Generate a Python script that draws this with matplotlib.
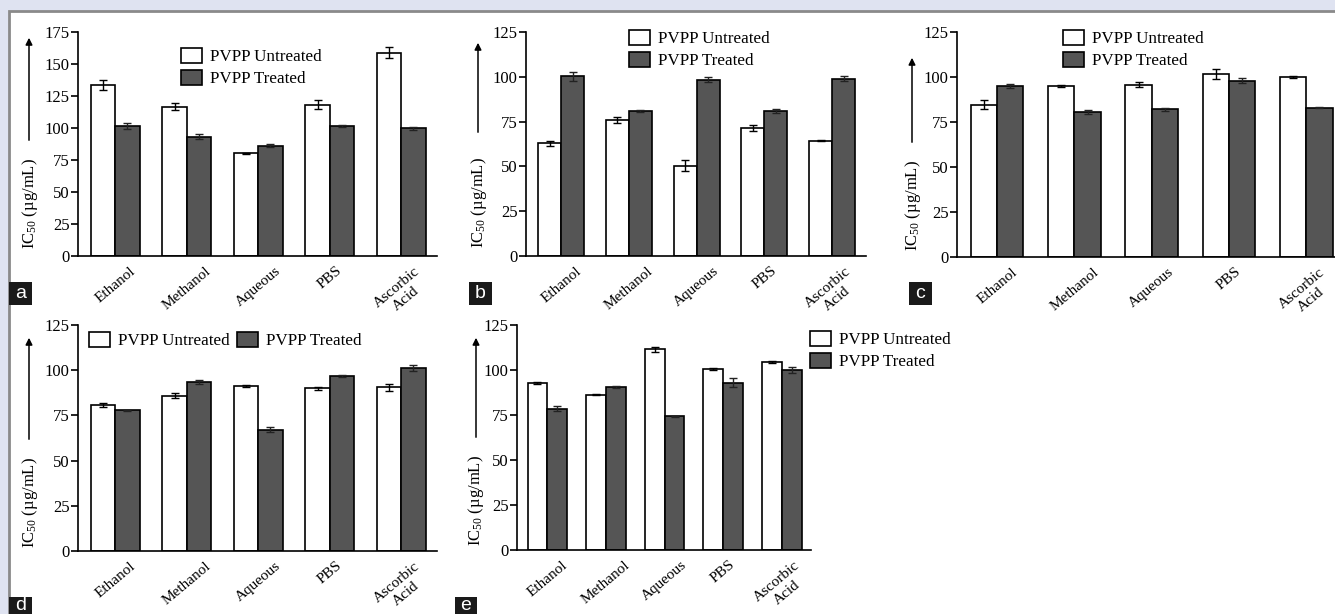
import matplotlib
matplotlib.use("Agg")
import matplotlib.pyplot as plt
from matplotlib.patches import Patch, Rectangle, FancyArrowPatch
import numpy as np

plt.rcParams['font.family'] = ['Liberation Serif', 'DejaVu Serif']
plt.rcParams['mathtext.fontset'] = 'custom'
plt.rcParams['mathtext.rm'] = 'Liberation Serif'
plt.rcParams['mathtext.it'] = 'Liberation Serif:italic'

categories = ["Ethanol", "Methanol", "Aqueous", "PBS", "Ascorbic\nAcid"]
series_names = ["PVPP Untreated", "PVPP Treated"]

a_untreated = [133.4, 116.5, 80.3, 118.3, 158.9]
a_untreated_err = [4.0, 2.8, 0.5, 3.5, 4.0]
a_treated = [101.4, 93.3, 86.3, 101.4, 99.8]
a_treated_err = [2.5, 1.8, 1.0, 1.0, 1.0]

b_untreated = [62.8, 75.8, 50.5, 71.5, 64.3]
b_untreated_err = [1.5, 1.5, 3.0, 1.5, 0.3]
b_treated = [100.3, 81.0, 98.4, 81.0, 99.0]
b_treated_err = [2.5, 0.5, 1.5, 1.0, 1.5]

c_untreated = [84.5, 94.8, 95.7, 101.7, 99.8]
c_untreated_err = [2.5, 0.5, 1.5, 3.0, 0.5]
c_treated = [95.0, 80.6, 82.0, 98.0, 83.0]
c_treated_err = [1.0, 1.0, 1.0, 1.5, 0.3]

d_untreated = [80.7, 86.0, 91.4, 89.9, 90.5]
d_untreated_err = [1.0, 1.5, 0.5, 1.0, 2.0]
d_treated = [77.9, 93.6, 67.2, 96.9, 101.2]
d_treated_err = [0.3, 1.0, 1.5, 0.5, 1.5]

e_untreated = [92.8, 86.3, 111.5, 100.7, 104.3]
e_untreated_err = [0.5, 0.3, 1.5, 0.5, 0.5]
e_treated = [78.5, 90.4, 74.3, 92.8, 100.0]
e_treated_err = [1.5, 0.5, 0.3, 2.5, 1.5]

yticks_a = [0, 25, 50, 75, 100, 125, 150, 175]
yticks_other = [0, 25, 50, 75, 100, 125]

W, H = 1335, 614
fig = plt.figure(figsize=(W / 100, H / 100), dpi=100)
fig.patch.set_facecolor('#dfe3f1')

def fx(x):
    return x / W

def fy(y):
    return 1 - y / H

# white panel with gray top/left border
fig.patches.append(Rectangle((fx(9), fy(700)), fx(1400), fy(11) - fy(700),
                             transform=fig.transFigure, facecolor='white',
                             edgecolor='#8a8a8a', linewidth=2, zorder=-5))

WHITE = 'white'
DARK = '#555555'
FS = 11
FS_Y = 12
FS_LEG = 12.3

panels = [
    ('a', a_untreated, a_untreated_err, a_treated, a_treated_err, yticks_a,
     (78, 437, 32, 256), (181, 48, 1), (30, 204), (29, 143, 35), (9, 282, 23, 23), 294),
    ('b', b_untreated, b_untreated_err, b_treated, b_treated_err, yticks_other,
     (526, 866, 32, 256), (629, 30, 1), (479, 203), (478, 135, 40), (469, 282, 23, 23), 294),
    ('c', c_untreated, c_untreated_err, c_treated, c_treated_err, yticks_other,
     (957, 1345, 32, 257), (1063, 30, 1), (913, 206), (912, 145, 55), (909, 282, 23, 23), 294),
    ('d', d_untreated, d_untreated_err, d_treated, d_treated_err, yticks_other,
     (78, 437, 325, 551), (89, 332, 2), (30, 503), (29, 442, 335), (9, 597, 23, 23), 605),
    ('e', e_untreated, e_untreated_err, e_treated, e_treated_err, yticks_other,
     (517, 811, 325, 550), (810, 331, 1), (476, 501), (476, 440, 335), (455, 597, 22, 23), 605),
]

w = 0.34
for (letter, un, une, tr, tre, yt, box, leg, ylab, arr, lbox, lty) in panels:
    l, r, t, b = box
    ax = fig.add_axes([fx(l), fy(b), fx(r - l), fy(t) - fy(b)])
    ax.set_facecolor('none')
    x = np.arange(len(categories))
    ax.bar(x - w / 2, un, w, color=WHITE, edgecolor='black', linewidth=1.2, zorder=2)
    ax.bar(x + w / 2, tr, w, color=DARK, edgecolor='black', linewidth=1.2, zorder=2)
    ax.errorbar(x - w / 2, un, yerr=une, fmt='none', ecolor='black',
                elinewidth=1, capsize=3, capthick=1, zorder=3)
    ax.errorbar(x + w / 2, tr, yerr=tre, fmt='none', ecolor='#222222',
                elinewidth=1, capsize=3, capthick=1, zorder=3)
    ax.set_xlim(-0.52, 4.5)
    ax.set_ylim(0, yt[-1])
    ax.set_yticks(yt)
    ax.set_xticks(x)
    ax.set_xticklabels(categories, rotation=40, fontsize=FS, linespacing=1.2)
    ax.tick_params(axis='x', length=0, pad=6)
    ax.tick_params(axis='y', length=5, width=1.2, pad=1, labelsize=FS_Y)
    for s in ['top', 'right']:
        ax.spines[s].set_visible(False)
    for s in ['left', 'bottom']:
        ax.spines[s].set_linewidth(1.2)

    handles = [Patch(facecolor=WHITE, edgecolor='black', linewidth=1.2),
               Patch(facecolor=DARK, edgecolor='black', linewidth=1.2)]
    lx, ly, ncol = leg
    fig.legend(handles, series_names, loc='upper left',
               bbox_to_anchor=(fx(lx), fy(ly)), bbox_transform=fig.transFigure,
               frameon=False, borderpad=0, borderaxespad=0, ncol=ncol,
               handlelength=1.25, handleheight=1.0, handletextpad=0.45,
               labelspacing=0.25, columnspacing=0.4, fontsize=FS_LEG)

    fig.text(fx(ylab[0]), fy(ylab[1]), r'IC$_{50}$ (µg/mL)', rotation=90,
             ha='center', va='center', fontsize=FS_Y)
    axx, y0, y1 = arr
    fig.patches.append(FancyArrowPatch(
        (fx(axx), fy(y0)), (fx(axx), fy(y1)), transform=fig.transFigure,
        arrowstyle='-|>', mutation_scale=10, color='black', linewidth=1.1, zorder=3))

    bx, by, bw, bh = lbox
    fig.patches.append(Rectangle((fx(bx), fy(by + bh)), fx(bw), fy(by) - fy(by + bh),
                                 transform=fig.transFigure, facecolor='#1a1a1a',
                                 edgecolor='none', zorder=5))
    fig.text(fx(bx + bw / 2), fy(lty), letter, color='white',
             ha='center', va='center', fontsize=14, family='Liberation Sans', zorder=6)

fig.savefig('out.png', dpi=100, facecolor=fig.get_facecolor())
